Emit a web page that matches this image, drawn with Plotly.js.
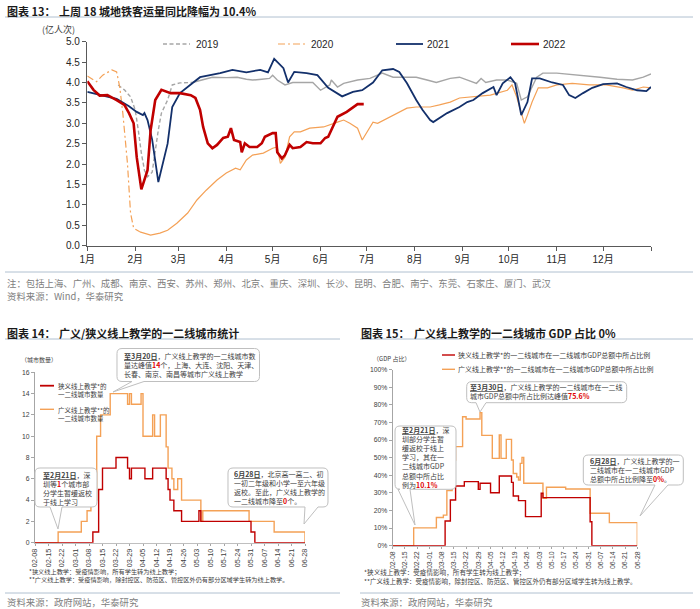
<!DOCTYPE html>
<html><head><meta charset="utf-8">
<script src="https://cdn.plot.ly/plotly-3.0.1.min.js"></script>
<style>html,body{margin:0;padding:0;background:#fff}#chart{width:700px;height:609px}</style>
</head><body><div id="chart"></div>
<script>
// ===== Chart 13: 18-city metro ridership (亿人次), x = day of year (0 = 1月1日) =====
const monthTickDays = [0,31,59,90,120,151,181,212,243,273,304,334,365];
const monthTickText = ['1月','2月','3月','4月','5月','6月','7月','8月','9月','10月','11月','12月',''];

const days2019Dash = [20,24,28,31,33,35,37,39,42,44,46,48,52,55,60,68];
const vals2019Dash = [3.94,3.82,3.65,3.33,2.84,2.27,1.85,1.69,1.8,2.35,2.84,3.25,3.57,3.94,3.99,4.0];
const days2019 = [68,81,90,97,103,107,113,118,120,123,128,133,140,146,151,157,158,162,166,175,183,191,198,213,220,226,235,241,252,255,258,265,272,278,281,285,291,295,304,321,332,343,353,360,365];
const vals2019 = [4.0,4.13,4.12,4.13,4.08,4.06,4.08,4.1,4.18,4.06,3.94,4.0,4.0,4.0,3.81,3.94,4.06,3.89,3.98,4.06,4.1,4.23,4.13,4.13,4.06,4.0,4.1,4.13,3.98,4.1,4.0,4.06,4.06,3.98,3.57,3.65,4.13,4.23,4.23,4.18,4.13,4.08,4.06,4.13,4.21];

const days2020DashDot = [0,6,10,16,19,20,21,23,26,28,30,34];
const vals2020DashDot = [4.16,4.02,4.18,4.31,4.26,4.06,3.89,3.25,2.02,0.8,0.43,0.34];
const days2020 = [34,41,47,52,58,65,71,77,84,90,96,99,103,107,114,120,123,125,128,131,134,138,144,153,162,166,170,175,178,182,185,188,196,207,213,222,228,235,241,250,261,272,275,278,281,283,285,288,292,298,304,314,325,336,347,353,360,365];
const vals2020 = [0.34,0.26,0.31,0.38,0.55,0.8,1.12,1.36,1.61,1.78,1.9,1.86,2.1,2.22,2.27,2.39,2.42,2.02,2.17,2.67,2.79,2.79,2.88,2.91,3.03,3.08,3.0,2.88,2.59,2.84,3.03,3.0,3.16,3.37,3.4,3.4,3.45,3.52,3.62,3.65,3.69,3.81,3.94,3.65,3.25,3.0,3.2,3.52,3.87,3.87,3.94,3.98,3.94,3.94,3.87,3.81,3.89,3.87];

const days2021 = [0,8,19,27,32,36,37,39,42,46,52,55,60,68,73,86,94,103,112,117,121,127,130,134,142,149,156,165,172,178,185,191,198,202,207,213,217,222,224,233,241,246,250,256,263,265,269,274,277,281,285,288,293,301,308,312,316,321,327,334,343,349,356,362,365];
const vals2021 = [3.77,3.7,3.6,3.42,3.28,3.2,3.25,3.08,2.6,1.56,2.5,3.4,3.74,3.98,4.13,4.23,4.31,4.25,4.31,4.25,4.58,4.35,4.0,4.26,4.23,4.18,3.87,3.66,3.77,3.81,4.0,4.3,4.33,4.26,3.98,3.57,3.33,3.08,3.03,3.25,3.4,3.52,3.57,3.74,3.89,3.69,3.98,4.13,3.98,3.2,3.52,4.1,4.1,4.0,3.94,3.69,3.62,3.74,3.87,3.96,3.98,3.89,3.81,3.79,3.89];

const days2022 = [0,4,8,13,19,24,27,30,32,35,39,41,44,48,54,60,67,70,73,75,78,81,84,88,91,93,95,99,100,102,105,110,113,115,120,122,123,126,128,131,133,138,142,146,151,154,156,159,162,168,172,175,179];
const vals2022 = [4.03,3.82,3.68,3.69,3.57,3.45,3.25,3.0,2.17,1.38,1.85,2.83,3.57,3.82,3.74,3.74,3.69,3.62,3.33,2.91,2.51,2.39,2.47,2.64,2.67,2.88,2.59,2.54,2.29,2.51,2.42,2.42,2.51,2.67,2.76,2.76,2.29,2.14,2.22,2.47,2.39,2.42,2.54,2.51,2.51,2.64,2.67,2.91,3.16,3.28,3.4,3.47,3.47];

// ===== Chart 14: number of tier-1/2 cities with online teaching =====
const tickDates = ['02-08','02-15','02-22','03-01','03-08','03-15','03-22','03-29','04-05','04-12','04-19','04-26','05-03','05-10','05-17','05-24','05-31','06-07','06-14','06-21','06-28'];
const dates14Broad = ['02-08','02-20','03-04','03-07','03-09','03-12','03-14','03-19','03-28','03-29','03-30','04-04','04-05','04-10','04-11','04-14','04-17','04-18','04-20','04-21','04-23','04-25','05-05','05-06','05-30','06-12','06-28'];
const vals14Broad  = [0,1,2,3,4,10,12,14,13,14,13,14,10,12,10,12,9,7,6,5,6,4,2,3,2,1,0];
const dates14Narrow = ['02-08','03-10','03-13','03-15','03-22','03-28','03-29','03-30','04-06','04-10','04-17','04-18','04-19','04-21','04-25','05-04','05-05','05-31','06-02','06-28'];
const vals14Narrow  = [0,1,5,7,8,7,6,7,6,7,6,5,4,3,2,3,2,1,0,0];

// ===== Chart 15: GDP share (%) =====
const dates15Broad = ['02-08','02-20','03-05','03-09','03-11','03-14','03-16','03-20','03-22','03-30','03-31','04-06','04-10','04-11','04-14','04-17','04-18','04-20','04-21','04-22','04-23','04-24','05-05','05-07','05-18','06-01','06-12','06-28'];
const vals15Broad  = [0,10.1,16,17.4,31.3,48.7,56.3,73.3,72,75.6,62.7,49.6,62.9,49.6,60.4,48.7,41,39,37.3,46.8,50.2,35.5,27,33.2,32.2,18.4,13.1,0];
const dates15Narrow = ['02-08','03-10','03-13','03-16','03-21','03-29','03-30','04-05','04-10','04-17','04-18','04-21','04-25','05-04','05-05','06-01','06-02','06-28'];
const vals15Narrow  = [0,14,26,33.9,36.4,32,35.5,30.1,39.6,36,28.2,25.6,16.5,29.8,27.3,13.6,0,0];

// ---------- helpers (layout only) ----------
const W = 700, H = 609;
const px = x => x / W;
const py = y => 1 - y / H;
const CJK = 'Noto Sans CJK SC';
const MIX = 'Liberation Sans, Noto Sans CJK SC';
const yr = a => a.map(d => '2022-' + d);
const RED = '#C00000', ORANGE = '#F4A156', NAVY = '#13306B', GREY = '#A6A6A6';
const HL = s => '<span style="color:#E00000"><b>' + s + '</b></span>';
const UL = s => '<b><span style="text-decoration:underline">' + s + '</span></b>';

function P(x, y) { return px(x).toFixed(5) + ',' + py(y).toFixed(5); }
function callout(x0, y0, x1, y1, r, a, b, tx, ty) {
  const d = 'M' + P(x0 + r, y0) + ' L' + P(x1 - r, y0) + ' Q' + P(x1, y0) + ' ' + P(x1, y0 + r) +
    ' L' + P(x1, y1 - r) + ' Q' + P(x1, y1) + ' ' + P(x1 - r, y1) +
    ' L' + P(b, y1) + ' L' + P(tx, ty) + ' L' + P(a, y1) +
    ' L' + P(x0 + r, y1) + ' Q' + P(x0, y1) + ' ' + P(x0, y1 - r) +
    ' L' + P(x0, y0 + r) + ' Q' + P(x0, y0) + ' ' + P(x0 + r, y0) + ' Z';
  return {type: 'path', xref: 'paper', yref: 'paper', path: d, fillcolor: '#fff',
          line: {color: '#BFBFBF', width: 1}, layer: 'above'};
}
function hline(x0, x1, y, color, width, dash) {
  return {type: 'line', xref: 'paper', yref: 'paper', x0: px(x0), x1: px(x1), y0: py(y), y1: py(y),
          line: {color: color, width: width, dash: dash || 'solid'}, layer: 'above'};
}
function txt(x, y, text, size, color, family, xanchor) {
  return {xref: 'paper', yref: 'paper', x: px(x), y: py(y), text: text, showarrow: false,
          xanchor: xanchor || 'left', yanchor: 'middle', align: 'left', borderpad: 0,
          font: {family: family || CJK, size: size, color: color || '#333'}};
}

// ---------- traces ----------
const data = [
  {x: days2019, y: vals2019, xaxis: 'x', yaxis: 'y', mode: 'lines', line: {color: GREY, width: 1.4}},
  {x: days2019Dash, y: vals2019Dash, xaxis: 'x', yaxis: 'y', mode: 'lines', line: {color: GREY, width: 1.4, dash: '4px,2.5px'}},
  {x: days2020, y: vals2020, xaxis: 'x', yaxis: 'y', mode: 'lines', line: {color: ORANGE, width: 1.2}},
  {x: days2020DashDot, y: vals2020DashDot, xaxis: 'x', yaxis: 'y', mode: 'lines', line: {color: ORANGE, width: 1.2, dash: '7px,3px,2px,3px'}},
  {x: days2021, y: vals2021, xaxis: 'x', yaxis: 'y', mode: 'lines', line: {color: NAVY, width: 1.8}},
  {x: days2022, y: vals2022, xaxis: 'x', yaxis: 'y', mode: 'lines', line: {color: RED, width: 2.6}},

  {x: yr(dates14Broad), y: vals14Broad, xaxis: 'x2', yaxis: 'y2', mode: 'lines', line: {color: ORANGE, width: 1.4, shape: 'hv'}, cliponaxis: false},
  {x: yr(dates14Narrow), y: vals14Narrow, xaxis: 'x2', yaxis: 'y2', mode: 'lines', line: {color: RED, width: 1.4, shape: 'hv'}, cliponaxis: false},

  {x: yr(dates15Broad), y: vals15Broad, xaxis: 'x3', yaxis: 'y3', mode: 'lines', line: {color: ORANGE, width: 1.4, shape: 'hv'}, cliponaxis: false},
  {x: yr(dates15Narrow), y: vals15Narrow, xaxis: 'x3', yaxis: 'y3', mode: 'lines', line: {color: RED, width: 1.4, shape: 'hv'}, cliponaxis: false}
];

const axBase = {showgrid: false, zeroline: false, fixedrange: true, ticks: 'outside', showline: true};

const layout = {
  width: W, height: H, margin: {l: 0, r: 0, t: 0, b: 0},
  paper_bgcolor: '#fff', plot_bgcolor: 'rgba(0,0,0,0)', showlegend: false,
  xaxis: Object.assign({}, axBase, {domain: [px(87.3), px(651)], range: [0, 365], anchor: 'y',
    tickmode: 'array', tickvals: monthTickDays, ticktext: monthTickText, ticklen: 4, tickcolor: '#595959',
    linecolor: '#595959', linewidth: 1.5, tickfont: {family: MIX, size: 10, color: '#262626'}}),
  yaxis: Object.assign({}, axBase, {domain: [py(245.7), py(41.7)], range: [0, 5], anchor: 'x',
    dtick: 0.5, tick0: 0, tickformat: '.1f', ticklen: 4, tickcolor: '#595959',
    linecolor: '#595959', linewidth: 1.5, tickfont: {family: MIX, size: 10, color: '#262626'}}),
  xaxis2: Object.assign({}, axBase, {type: 'date', domain: [px(35), px(305)], range: ['2022-02-08', '2022-06-28'], anchor: 'y2',
    tickmode: 'array', tickvals: yr(tickDates), tickformat: '%m-%d', tickangle: -90, ticklen: 2, tickcolor: '#A6A6A6',
    linecolor: '#BFBFBF', linewidth: 1, tickfont: {family: MIX, size: 7.3, color: '#404040'}}),
  yaxis2: Object.assign({}, axBase, {domain: [py(542.7), py(372.3)], range: [0, 16], anchor: 'x2',
    dtick: 2, tick0: 0, ticklen: 3, tickcolor: '#A6A6A6', linecolor: '#A6A6A6', linewidth: 1,
    tickfont: {family: MIX, size: 6.8, color: '#404040'}}),
  xaxis3: Object.assign({}, axBase, {type: 'date', domain: [px(392.7), px(637.3)], range: ['2022-02-08', '2022-06-28'], anchor: 'y3',
    tickmode: 'array', tickvals: yr(tickDates), tickformat: '%m-%d', tickangle: -90, ticklen: 2, tickcolor: '#A6A6A6',
    linecolor: '#BFBFBF', linewidth: 1, tickfont: {family: MIX, size: 6.9, color: '#404040'}}),
  yaxis3: Object.assign({}, axBase, {domain: [py(545.7), py(369.7)], range: [0, 100], anchor: 'x3',
    dtick: 10, tick0: 0, ticksuffix: '%', ticklen: 3, tickcolor: '#A6A6A6', linecolor: '#A6A6A6', linewidth: 1,
    tickfont: {family: MIX, size: 6.8, color: '#404040'}}),
  shapes: [
    hline(5, 693, 17, '#B0C0D0', 1),
    hline(5, 693, 272, '#B0C0D0', 1),
    hline(5, 340, 339, '#B0C0D0', 1),
    hline(360, 693, 339, '#B0C0D0', 1),
    hline(5, 340, 593, '#B0C0D0', 1),
    hline(360, 693, 593, '#B0C0D0', 1),
    // chart 13 legend samples
    hline(163, 190, 44, GREY, 1.4, '4px,2.5px'),
    hline(278, 305, 44, ORANGE, 1.2, '7px,3px,2px,3px'),
    hline(396, 423, 44, NAVY, 1.8),
    hline(511, 539, 44, RED, 2.6),
    // chart 14 legend samples
    hline(40, 54, 385.7, RED, 1.8),
    hline(40, 54, 409.3, ORANGE, 1.4),
    // chart 15 legend samples
    hline(442, 455, 355, RED, 1.4),
    hline(442, 455, 369.3, ORANGE, 1.4),
    // callouts
    callout(117, 348.5, 259.5, 381.5, 5, 132, 144, 113, 392),
    callout(35, 468, 97, 507, 5, 50, 62, 58, 529),
    callout(228, 468, 328, 507, 5, 305, 318, 304, 524),
    callout(466.7, 381.7, 626.7, 402.7, 5, 476, 486, 480, 412),
    callout(395, 426, 456, 489.3, 5, 398, 410, 415, 525),
    callout(583.3, 455, 683.3, 485, 5, 655, 668, 640, 516)
  ],
  annotations: [
    txt(6, 11, '<b>图表 13：</b>', 11, '#1a1a1a'),
    txt(58, 11, '<b>上周 18 城地铁客运量同比降幅为 10.4%</b>', 11, '#1a1a1a'),
    txt(41, 29.5, '(亿人次)', 9, '#404040'),
    txt(195, 44, '2019', 10, '#262626', MIX),
    txt(310, 44, '2020', 10, '#262626', MIX),
    txt(426, 44, '2021', 10, '#262626', MIX),
    txt(542, 44, '2022', 10, '#262626', MIX),
    txt(6, 283, '注：包括上海、广州、成都、南京、西安、苏州、郑州、北京、重庆、深圳、长沙、昆明、合肥、南宁、东莞、石家庄、厦门、武汉', 9.4, '#808080'),
    txt(6, 296, '资料来源：Wind，华泰研究', 9.4, '#808080'),

    txt(6, 332.5, '<b>图表 14：</b>', 11, '#1a1a1a'),
    txt(58, 332.5, '<b>广义/狭义线上教学的一二线城市统计</b>', 11, '#1a1a1a'),
    txt(20, 359.5, '（城市数量）', 6, '#404040'),
    txt(57, 390, '狭义线上教学*的<br>一二线城市数量', 6.5, '#404040'),
    txt(57, 413.7, '广义线上教学**的<br>一二线城市数量', 6.5, '#404040'),
    txt(123, 365, UL('至3月20日') + '，广义线上教学的一二线城市数<br>量达峰值' + HL('14') + '个，上海、大连、沈阳、天津、<br>长春、南京、南昌等城市广义线上教学', 7, '#404040'),
    txt(42, 488.4, UL('至2月21日') + '，深<br>圳等' + HL('1') + '个城市部<br>分学生暂缓返校<br>于线上学习', 7, '#404040'),
    txt(233, 487, UL('6月28日') + '，北京高一高二、初<br>一初二年级和小学一至六年级<br>返校。至此，广义线上教学的<br>一二线城市降至' + HL('0') + '个。', 7, '#404040'),
    txt(28, 571.7, '*狭义线上教学：受疫情影响，所有学生转为线上教学；', 6.2, '#404040'),
    txt(28, 579.5, '**广义线上教学：受疫情影响，除封控区、防范区、管控区外仍有部分区域学生转为线上教学。', 6.2, '#404040'),
    txt(6, 601.5, '资料来源：政府网站，华泰研究', 9.4, '#808080'),

    txt(360, 332.5, '<b>图表 15：</b>', 11, '#1a1a1a'),
    txt(413, 332.5, '<b>广义线上教学的一二线城市 GDP 占比 0%</b>', 11, '#1a1a1a'),
    txt(372, 358.3, '（GDP 占比）', 6, '#404040'),
    txt(457, 355, '狭义线上教学*的一二线城市在一二线城市GDP总额中所占比例', 7, '#404040'),
    txt(457, 369.3, '广义线上教学**的一二线城市在一二线城市GDP总额中所占比例', 7, '#404040'),
    txt(469, 391.4, UL('至3月30日') + '，广义线上教学的一二线城市在一二线<br>城市GDP总额中所占比例达峰值' + HL('75.6%'), 7, '#404040'),
    txt(401, 457, UL('至2月21日') + '，深<br>圳部分学生暂<br>缓返校于线上<br>学习，其在一<br>二线城市GDP<br>总额中所占比<br>例为' + HL('10.1%'), 7, '#404040'),
    txt(589, 469.5, UL('6月28日') + '，广义线上教学的一<br>二线城市在一二线城市GDP<br>总额中所占比例降至' + HL('0%') + '。', 7, '#404040'),
    txt(363, 571.7, '*狭义线上教学：受疫情影响，所有学生转为线上教学；', 6.6, '#404040'),
    txt(363, 580.5, '**广义线上教学：受疫情影响，除封控区、防范区、管控区外仍有部分区域学生转为线上教学。', 6.5, '#404040'),
    txt(360, 601.5, '资料来源：政府网站，华泰研究', 9.4, '#808080')
  ]
};

Plotly.newPlot('chart', data, layout, {staticPlot: true, displayModeBar: false});
</script>
</body></html>
